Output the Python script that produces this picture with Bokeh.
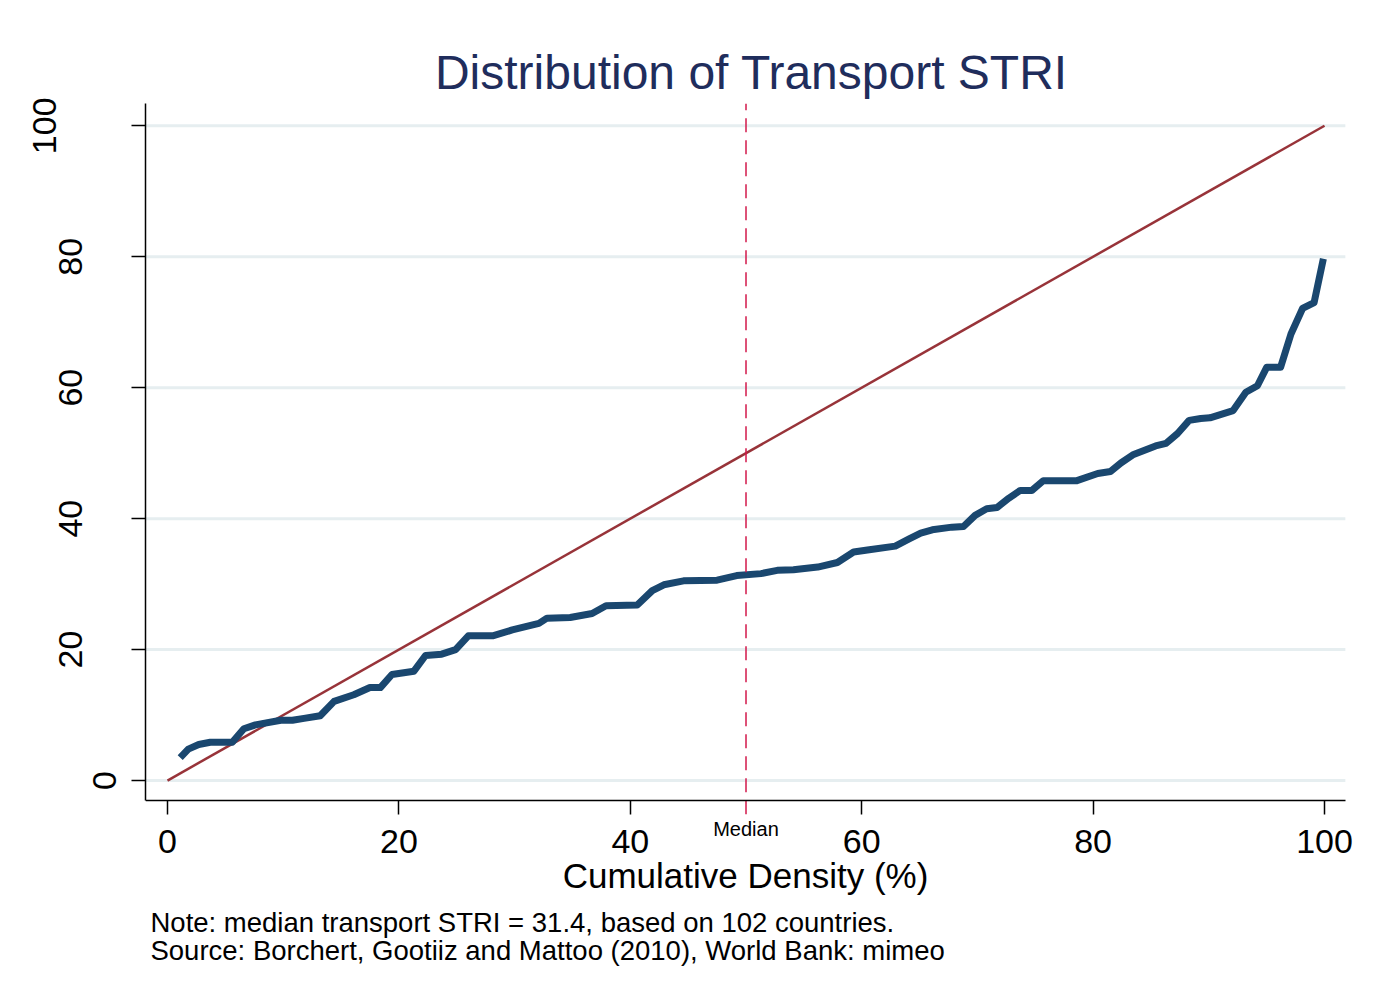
from bokeh.plotting import figure
from bokeh.models import Range1d, Label, FixedTicker, LinearAxis
from bokeh.embed import file_html
from bokeh.resources import INLINE

# Cumulative density (%) and transport STRI
pct = [1.1, 1.8, 2.7, 3.7, 5.6, 6.6, 7.6, 9.8, 10.8, 11.8, 13.2, 14.4, 16.1, 17.5, 18.4,
       19.4, 21.3, 22.3, 23.7, 24.9, 26.0, 28.1, 29.8, 32.1, 32.8, 34.8, 36.7, 37.9, 40.6,
       41.9, 42.9, 44.6, 47.5, 49.2, 51.3, 52.7, 54.1, 56.2, 57.9, 59.3, 60.5, 62.9, 64.1,
       65.1, 66.1, 67.8, 68.8, 69.8, 70.8, 71.7, 72.7, 73.7, 74.7, 75.7, 78.6, 80.4, 81.5,
       82.4, 83.5, 85.4, 86.3, 87.3, 88.3, 89.3, 90.1, 92.1, 93.2, 94.2, 95.0, 96.2, 97.1,
       98.1, 99.1, 99.9]
stri = [3.5, 4.8, 5.5, 5.85, 5.85, 7.9, 8.5, 9.2, 9.2, 9.5, 9.9, 12.1, 13.1, 14.2, 14.2,
        16.2, 16.7, 19.1, 19.3, 20.0, 22.1, 22.1, 23.0, 24.0, 24.8, 24.9, 25.5, 26.7, 26.8,
        29.0, 29.9, 30.5, 30.6, 31.3, 31.6, 32.1, 32.2, 32.6, 33.3, 34.9, 35.2, 35.8, 36.9,
        37.8, 38.3, 38.7, 38.8, 40.5, 41.5, 41.7, 43.1, 44.3, 44.3, 45.8, 45.8, 46.9, 47.2,
        48.5, 49.8, 51.1, 51.5, 53.0, 55.0, 55.3, 55.4, 56.5, 59.3, 60.3, 63.1, 63.1, 68.2,
        72.1, 73.0, 79.7]
diag_x = [0, 100]
diag_y = [0, 100]
median_pct = 50
x_ticks = [0, 20, 40, 60, 80, 100]
y_ticks = [0, 20, 40, 60, 80, 100]
# y tick labels are set off from the axis by their number of digits
y_ticks_1 = [0]
y_ticks_2 = [20, 40, 60, 80]
y_ticks_3 = [100]
notes = ["Note: median transport STRI = 31.4, based on 102 countries.",
         "Source: Borchert, Gootiiz and Mattoo (2010), World Bank: mimeo"]

FONT = "Liberation Sans"

# axis extents of the plot region (data units)
X_LO, X_HI = -1.9, 101.8
Y_LO, Y_HI = -3.05, 103.4
# the frame extends below/right of the axes so labels and notes fit inside it
X_FRAME_HI = 102.85
Y_FRAME_LO = -31.15

p = figure(width=1357, height=984, output_backend="svg", toolbar_location=None,
           x_range=Range1d(X_LO, X_FRAME_HI), y_range=Range1d(Y_FRAME_LO, Y_HI),
           min_border_left=145, min_border_right=0, min_border_top=103,
           min_border_bottom=0)

p.title.text = "Distribution of Transport STRI"
p.title.align = "center"
p.title.offset = 5
p.title.text_font = FONT
p.title.text_font_size = "48px"
p.title.text_font_style = "normal"
p.title.text_color = "#1f2d5c"

p.outline_line_color = None
p.background_fill_color = "white"
p.border_fill_color = "white"

# grid (horizontal lines at the y ticks, limited to the axis extent)
p.xgrid.grid_line_color = None
p.ygrid.grid_line_color = None
p.segment(x0=[X_LO] * len(y_ticks), x1=[X_HI] * len(y_ticks), y0=y_ticks, y1=y_ticks,
          line_color="#e6eef0", line_width=3)


def style_axis(ax):
    ax.axis_line_color = "black"
    ax.axis_line_width = 1.5
    ax.major_tick_line_color = "black"
    ax.major_tick_line_width = 1.5
    ax.major_tick_out = 14
    ax.major_tick_in = 0
    ax.minor_tick_line_color = None
    ax.major_label_text_font = FONT
    ax.major_label_text_font_size = "34px"
    ax.major_label_text_color = "black"


# x axis
p.xaxis.ticker = FixedTicker(ticks=x_ticks)
style_axis(p.xaxis[0])
p.xaxis.fixed_location = Y_LO
p.xaxis.bounds = (X_LO, X_HI)
p.xaxis.major_label_standoff = 15
p.xaxis.axis_label = "Cumulative Density (%)"
p.xaxis.axis_label_text_font = FONT
p.xaxis.axis_label_text_font_size = "35px"
p.xaxis.axis_label_text_font_style = "normal"
p.xaxis.axis_label_text_color = "black"
p.xaxis.axis_label_standoff = 0

# y axis: line and all ticks, label "0"
yax = p.yaxis[0]
style_axis(yax)
yax.ticker = FixedTicker(ticks=y_ticks)
yax.major_label_overrides = {t: "" for t in y_ticks if t not in y_ticks_1}
yax.bounds = (Y_LO, Y_HI)
yax.major_label_standoff = 15
yax.major_label_orientation = "vertical"

# further label-only y axes, stacked outward
for ticks, standoff in ((y_ticks_2, 8), (y_ticks_3, 0)):
    ax = LinearAxis(ticker=FixedTicker(ticks=ticks))
    style_axis(ax)
    ax.axis_line_color = None
    ax.major_tick_line_color = None
    ax.major_tick_out = 0
    ax.major_label_standoff = standoff
    ax.major_label_orientation = "vertical"
    p.add_layout(ax, "left")

# lines
p.line(diag_x, diag_y, line_color="#983339", line_width=2.5)
p.line(pct, stri, line_color="#1a476f", line_width=7, line_join="round")
p.line([median_pct, median_pct], [Y_LO - 2.1, Y_HI], line_color="#d2194b",
       line_width=1.5, line_dash="14 8")
p.add_layout(Label(x=median_pct, y=-7.33, text="Median", text_align="center",
                   text_baseline="middle", text_font=FONT,
                   text_font_size="20px", text_color="black"))

# notes
for i, line in enumerate(notes):
    p.add_layout(Label(x=-1.47, y=-21.69 - 4.27 * i, text=line, text_align="left",
                       text_baseline="middle", text_font=FONT,
                       text_font_size="27.5px", text_color="black"))

open("out.html", "w").write(file_html(p, INLINE))
